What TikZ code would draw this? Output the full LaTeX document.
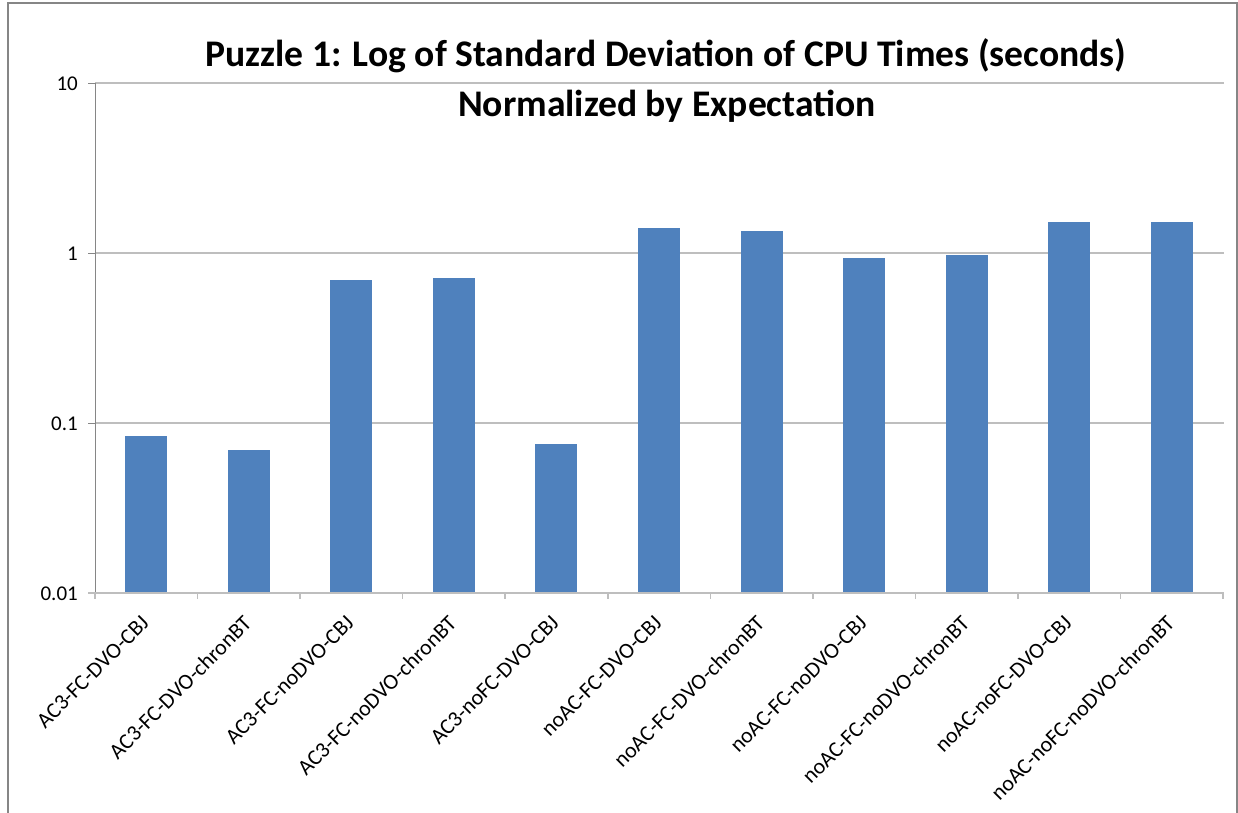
\documentclass[tikz,border=0pt]{standalone}
\usepackage{fontspec}
\setmainfont{Carlito}
\usetikzlibrary{positioning}
\definecolor{barblue}{HTML}{4F81BD}
\definecolor{axisgray}{HTML}{868686}
\definecolor{gridgray}{HTML}{BEBEBE}

\begin{document}
\begin{tikzpicture}[x=1pt,y=-1pt,
	bar/.style={fill=barblue},
	ticklabel/.style={anchor=east,inner sep=0pt,font=\fontsize{21}{24}\selectfont},
	catlabel/.style={anchor=north east,rotate=45,inner sep=0pt,font=\fontsize{22}{24}\selectfont},
	heading/.style={anchor=base,inner sep=0pt,font=\fontsize{37.6}{46}\bfseries\selectfont}]
	\useasboundingbox (0,0) rectangle (1238,812);
	\draw[axisgray,line width=1.5pt] (8,3) rectangle (1237,830);

	% grid and value axis (log scale, 170pt per decade)
	\foreach \y in {83,253,423}
		\draw[gridgray,line width=1.5pt] (95,\y) -- (1224,\y);
	\foreach \y in {83,253,423,593}
		\draw[axisgray,line width=1pt] (88,\y) -- (95,\y);
	\draw[axisgray,line width=1pt] (95,83) -- (95,593);
	\node[ticklabel] (t_10)   at (78,84)  {10};
	\node[ticklabel] (t_1)    at (78,254) {1};
	\node[ticklabel] (t_01)   at (78,424) {0.1};
	\node[ticklabel] (t_001)  at (78,594) {0.01};

	% category axis
	\draw[gridgray,line width=1.5pt] (88,593) -- (1224,593);
	\foreach \i in {0,...,11}
		\draw[gridgray,line width=1.5pt] ({95+\i*102.55},593) -- ({95+\i*102.55},599);

	% bars
	\foreach \i/\v in {1/0.083,2/0.068,3/0.694,4/0.71,5/0.0743,6/1.40,7/1.35,8/0.935,9/0.97,10/1.52,11/1.52}
		\fill[bar] ({95+(\i-0.5)*102.55-21},{253-170*log10(\v)}) rectangle ({95+(\i-0.5)*102.55+21},592);

	% category labels
	\node[catlabel] (c_1)  at (140,614)  {AC3-FC-DVO-CBJ};
	\node[catlabel] (c_2)  at (242,614)  {AC3-FC-DVO-chronBT};
	\node[catlabel] (c_3)  at (345,614)  {AC3-FC-noDVO-CBJ};
	\node[catlabel] (c_4)  at (447,614)  {AC3-FC-noDVO-chronBT};
	\node[catlabel] (c_5)  at (550,614)  {AC3-noFC-DVO-CBJ};
	\node[catlabel] (c_6)  at (653,614)  {noAC-FC-DVO-CBJ};
	\node[catlabel] (c_7)  at (755,614)  {noAC-FC-DVO-chronBT};
	\node[catlabel] (c_8)  at (858,614)  {noAC-FC-noDVO-CBJ};
	\node[catlabel] (c_9)  at (960,614)  {noAC-FC-noDVO-chronBT};
	\node[catlabel] (c_10) at (1063,614) {noAC-noFC-DVO-CBJ};
	\node[catlabel] (c_11) at (1165,614) {noAC-noFC-noDVO-chronBT};

	\node[heading] (title) at (666,66) {Puzzle 1: Log of Standard Deviation of CPU Times (seconds)};
	\node[heading] (subtitle) at (667,116) {Normalized by Expectation};
\end{tikzpicture}
\end{document}
